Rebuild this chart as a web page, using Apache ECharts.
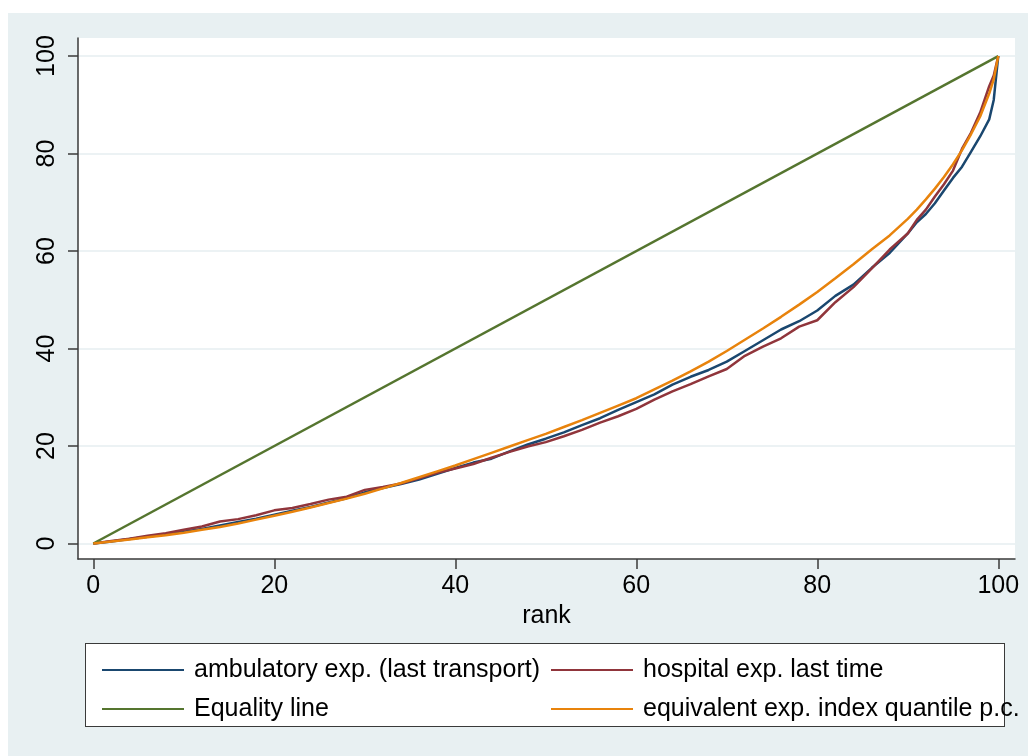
<!DOCTYPE html>
<html><head><meta charset="utf-8">
<script src="https://cdn.jsdelivr.net/npm/echarts@6/dist/echarts.min.js"></script>
<style>
html,body{margin:0;padding:0;background:#fff;}
#bg{position:absolute;left:8px;top:13px;width:1020px;height:743px;background:#e8f0f2;}
#lg{position:absolute;left:85px;top:643px;width:918px;height:82px;background:#fff;border:1.5px solid #3a3a3a;}
#c{position:absolute;left:0;top:0;width:1028px;height:756px;}
</style>
</head><body>
<div id="bg"></div><div id="lg"></div><div id="c"></div>
<script>
const rank = [0,2,4,6,8,10,12,14,16,18,20,22,24,26,28,30,32,34,36,38,40,42,44,46,48,50,52,54,56,58,60,62,64,66,68,70,72,74,76,78,80,82,84,86,88,90,91,92,93,94,95,96,97,98,99,99.5,100];
const ambulatory = [0,0.4,0.9,1.4,1.9,2.4,3.0,3.7,4.4,5.1,5.9,6.7,7.5,8.4,9.3,10.5,11.4,12.2,13.1,14.3,15.5,16.6,17.4,18.9,20.3,21.5,22.8,24.3,25.7,27.4,29.0,30.6,32.6,34.2,35.6,37.3,39.5,41.7,43.9,45.6,47.8,50.8,53.1,56.5,59.6,63.6,65.9,67.6,69.8,72.4,75.0,77.3,80.4,83.5,87.0,91.0,100];
const hospital = [0,0.5,1.0,1.6,2.1,2.8,3.5,4.5,5.0,5.8,6.8,7.3,8.1,9.0,9.6,11.0,11.6,12.3,13.4,14.5,15.4,16.3,17.6,18.8,19.9,20.8,22.0,23.3,24.8,26.1,27.6,29.5,31.2,32.7,34.3,35.8,38.5,40.4,42.1,44.5,45.8,49.5,52.6,56.4,60.3,63.6,66.4,68.5,71.2,73.7,76.5,81.0,84.3,88.4,93.8,96.0,100];
const equivalent = [0,0.4,0.8,1.3,1.7,2.2,2.8,3.4,4.1,4.9,5.7,6.5,7.4,8.3,9.2,10.2,11.3,12.4,13.6,14.8,16.0,17.3,18.6,19.9,21.2,22.5,23.9,25.3,26.8,28.3,29.8,31.6,33.4,35.3,37.3,39.5,41.8,44.1,46.5,49.0,51.6,54.4,57.3,60.3,63.2,66.6,68.5,70.6,72.8,75.2,77.8,80.7,84.0,87.6,92.3,95.2,100];
const equalityX = [0,100];
const equalityY = [0,100];
const xTicks = [0,20,40,60,80,100];
const yTicks = [0,20,40,60,80,100];
const names = ['ambulatory exp. (last transport)','hospital exp. last time','Equality line','equivalent exp. index quantile p.c.'];

const FONT = '"Liberation Sans", Arial, Helvetica, sans-serif';
const axisCol = '#3a3a3a';
const pair = (xs, ys) => xs.map((x, i) => [x, ys[i]]);

const chart = echarts.init(document.getElementById('c'), null, {renderer:'canvas'});
const lineSeries = (name, data, color) => ({
  name, type:'line', data, showSymbol:false, symbol:'none',
  lineStyle:{width:2.5, color}, itemStyle:{color}, animation:false
});
chart.setOption({
  animation:false,
  textStyle:{fontFamily:FONT},
  grid:{left:78, right:13, top:38, bottom:197, show:true, backgroundColor:'#ffffff', borderWidth:0},
  xAxis:{
    type:'value', min:-1.69, max:101.85,
    axisLine:{show:true, onZero:false, lineStyle:{color:axisCol, width:1.5}},
    axisTick:{show:true, length:10, customValues:xTicks, lineStyle:{color:axisCol, width:1.5}},
    axisLabel:{customValues:xTicks, fontSize:25, color:'#000', margin:15, fontFamily:FONT},
    splitLine:{show:false},
    name:'rank', nameLocation:'middle', nameGap:45,
    nameTextStyle:{fontSize:25, color:'#000', fontFamily:FONT}
  },
  yAxis:{
    type:'value', min:-3.18, max:103.7,
    axisLine:{show:true, onZero:false, lineStyle:{color:axisCol, width:1.5}},
    axisTick:{show:true, length:10, customValues:yTicks, lineStyle:{color:axisCol, width:1.5}},
    axisLabel:{customValues:yTicks, fontSize:25, color:'#000', margin:18, rotate:90, fontFamily:FONT},
    splitLine:{show:true, lineStyle:{color:'#e6eef1', width:1.5}}
  },
  legend:[
    {orient:'vertical', left:97, top:650, itemWidth:82, itemHeight:2, icon:'rect', itemGap:9,
     data:[names[0], names[2]],
     textStyle:{fontSize:25, lineHeight:30, color:'#000', fontFamily:FONT, padding:[0,0,0,5]}},
    {orient:'vertical', left:546, top:650, itemWidth:82, itemHeight:2, icon:'rect', itemGap:9,
     data:[names[1], names[3]],
     textStyle:{fontSize:25, lineHeight:30, color:'#000', fontFamily:FONT, padding:[0,0,0,5]}}
  ],
  series:[
    lineSeries(names[0], pair(rank, ambulatory), '#1a476f'),
    lineSeries(names[1], pair(rank, hospital), '#90353b'),
    lineSeries(names[2], pair(equalityX, equalityY), '#55752f'),
    lineSeries(names[3], pair(rank, equivalent), '#e8830c')
  ]
});
</script>
</body></html>
